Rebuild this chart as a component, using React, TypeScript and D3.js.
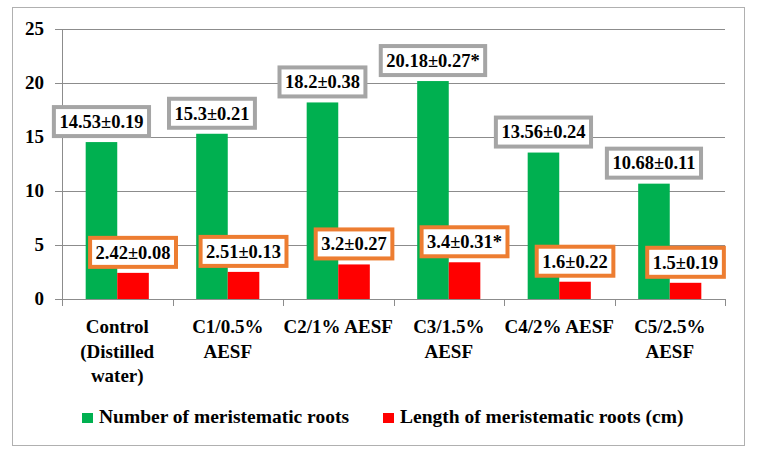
import React, { useEffect, useRef } from "react";
import * as d3 from "d3";

const categories: string[][] = [
  ["Control", "(Distilled", "water)"],
  ["C1/0.5%", "AESF"],
  ["C2/1% AESF"],
  ["C3/1.5%", "AESF"],
  ["C4/2% AESF"],
  ["C5/2.5%", "AESF"],
];
const numberValues = [14.53, 15.3, 18.2, 20.18, 13.56, 10.68];
const numberSD = [0.19, 0.21, 0.38, 0.27, 0.24, 0.11];
const numberSig = [false, false, false, true, false, false];
const lengthValues = [2.42, 2.51, 3.2, 3.4, 1.6, 1.5];
const lengthSD = [0.08, 0.13, 0.27, 0.31, 0.22, 0.19];
const lengthSig = [false, false, false, true, false, false];
const yTicks = [0, 5, 10, 15, 20, 25];
const seriesNames = ["Number of meristematic roots", "Length of meristematic roots (cm)"];

const GREEN = "#00B050";
const RED = "#FF0000";
const GRAY_BOX = "#A5A5A5";
const ORANGE_BOX = "#ED7D31";
const FONT = "'Liberation Serif', serif";

export default function App() {
  const ref = useRef<SVGSVGElement | null>(null);

  useEffect(() => {
    if (!ref.current) return;
    const svg = d3.select(ref.current);
    svg.selectAll("*").remove();

    svg
      .append("rect")
      .attr("x", 12.5)
      .attr("y", 7.5)
      .attr("width", 732)
      .attr("height", 438)
      .attr("fill", "#fff")
      .attr("stroke", "#b0b0b0")
      .attr("stroke-width", 1);

    const x = d3
      .scaleBand<number>()
      .domain(categories.map((_, i) => i))
      .range([62, 725])
      .paddingInner(0)
      .paddingOuter(0);
    const y = d3.scaleLinear().domain([0, 25]).range([299, 29]);
    const bw = x.bandwidth();
    const barW = bw / 3.5;

    // gridlines
    const grid = svg.append("g");
    yTicks.forEach((t) => {
      grid
        .append("line")
        .attr("x1", 55)
        .attr("x2", 725)
        .attr("y1", Math.round(y(t)) + 0.5)
        .attr("y2", Math.round(y(t)) + 0.5)
        .attr("stroke", "#8c8c8c")
        .attr("stroke-width", 1);
    });
    grid
      .append("line")
      .attr("x1", 62.5)
      .attr("x2", 62.5)
      .attr("y1", y(25))
      .attr("y2", y(0))
      .attr("stroke", "#8c8c8c");
    d3.range(categories.length + 1).forEach((i) => {
      const xx = i < categories.length ? (x(i) as number) : 725;
      grid
        .append("line")
        .attr("x1", Math.round(xx) + 0.5)
        .attr("x2", Math.round(xx) + 0.5)
        .attr("y1", y(0))
        .attr("y2", y(0) + 7)
        .attr("stroke", "#8c8c8c");
    });

    // y tick labels
    svg
      .append("g")
      .selectAll("text")
      .data(yTicks)
      .join("text")
      .attr("x", 44)
      .attr("y", (d) => y(d))
      .attr("dy", "0.34em")
      .attr("text-anchor", "end")
      .attr("font-family", FONT)
      .attr("font-weight", "bold")
      .attr("font-size", 19)
      .attr("fill", "#000")
      .text((d) => String(d));

    // bars
    const bars = svg.append("g");
    numberValues.forEach((v, i) => {
      const cx = (x(i) as number) + bw / 2;
      bars
        .append("rect")
        .attr("x", cx - barW)
        .attr("y", y(v))
        .attr("width", barW)
        .attr("height", y(0) - y(v))
        .attr("fill", GREEN);
    });
    lengthValues.forEach((v, i) => {
      const cx = (x(i) as number) + bw / 2;
      bars
        .append("rect")
        .attr("x", cx)
        .attr("y", y(v))
        .attr("width", barW)
        .attr("height", y(0) - y(v))
        .attr("fill", RED);
    });

    // data labels
    const labels = svg.append("g");
    const addLabel = (cx: number, top: number, text: string, color: string) => {
      const g = labels.append("g");
      const cy = top - 4 - 16.5;
      const rect = g.append("rect");
      const t = g
        .append("text")
        .attr("x", cx)
        .attr("y", cy)
        .attr("dy", "0.34em")
        .attr("text-anchor", "middle")
        .attr("font-family", FONT)
        .attr("font-weight", "bold")
        .attr("font-size", 18.5)
        .attr("fill", "#000")
        .text(text);
      const w = (t.node() as SVGTextElement).getComputedTextLength();
      const pad = 5.5;
      rect
        .attr("x", cx - w / 2 - pad)
        .attr("y", cy - 14.5)
        .attr("width", w + pad * 2)
        .attr("height", 29)
        .attr("fill", "#fff")
        .attr("stroke", color)
        .attr("stroke-width", 4);
    };
    numberValues.forEach((v, i) => {
      const cx = (x(i) as number) + bw / 2 - barW / 2;
      addLabel(cx, y(v), `${v}±${numberSD[i]}${numberSig[i] ? "*" : ""}`, GRAY_BOX);
    });
    lengthValues.forEach((v, i) => {
      const cx = (x(i) as number) + bw / 2 + barW / 2;
      addLabel(cx, y(v), `${v}±${lengthSD[i]}${lengthSig[i] ? "*" : ""}`, ORANGE_BOX);
    });

    // category labels
    const cat = svg.append("g");
    categories.forEach((lines, i) => {
      const cx = (x(i) as number) + bw / 2;
      const t = cat
        .append("text")
        .attr("text-anchor", "middle")
        .attr("font-family", FONT)
        .attr("font-weight", "bold")
        .attr("font-size", 19)
        .attr("fill", "#000");
      lines.forEach((ln, j) => {
        t.append("tspan").attr("x", cx).attr("y", 333 + j * 24.5).text(ln);
      });
    });

    // legend
    const leg = svg.append("g");
    const legendItems = [
      { name: seriesNames[0], color: GREEN, x: 82 },
      { name: seriesNames[1], color: RED, x: 383 },
    ];
    legendItems.forEach((d) => {
      leg.append("rect").attr("x", d.x).attr("y", 413).attr("width", 11).attr("height", 10).attr("fill", d.color);
      leg
        .append("text")
        .attr("x", d.x + 17)
        .attr("y", 423)
        .attr("font-family", FONT)
        .attr("font-weight", "bold")
        .attr("font-size", 19.5)
        .attr("fill", "#000")
        .text(d.name);
    });
  }, []);

  return (
    <svg
      ref={ref}
      width={757}
      height={456}
      style={{ position: "absolute", left: 0, top: 0, display: "block", background: "#fff" }}
    />
  );
}
